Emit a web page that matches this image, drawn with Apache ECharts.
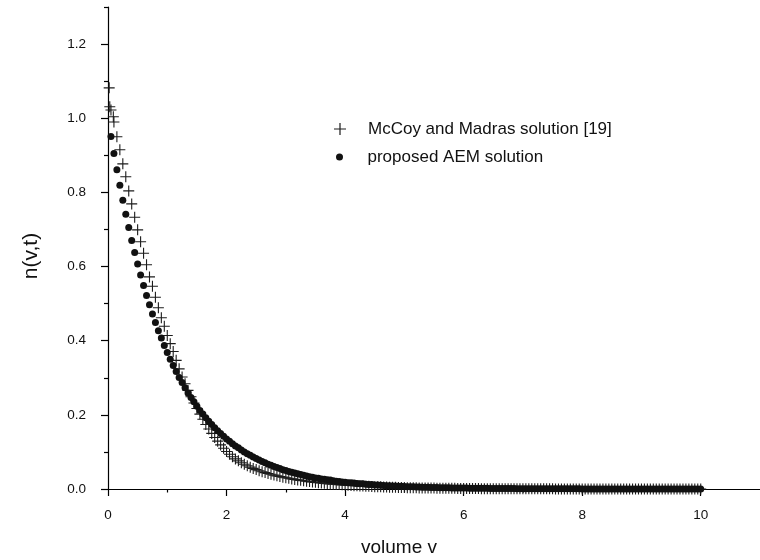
<!DOCTYPE html>
<html><head><meta charset="utf-8">
<script src="https://cdn.jsdelivr.net/npm/echarts@6/dist/echarts.min.js"></script>
<style>html,body{margin:0;padding:0;background:#fff}#c{width:760px;height:560px}</style>
</head><body><div id="c"></div>
<script>
// volume grid (v) shared by both series
const volume = [
 0.05,0.1,0.15,0.2,0.25,0.3,0.35,0.4,0.45,0.5,0.55,0.6,0.65,0.7,0.75,0.8,0.85,0.9,0.95,1,
 1.05,1.1,1.15,1.2,1.25,1.3,1.35,1.4,1.45,1.5,1.55,1.6,1.65,1.7,1.75,1.8,1.85,1.9,1.95,2,
 2.05,2.1,2.15,2.2,2.25,2.3,2.35,2.4,2.45,2.5,2.55,2.6,2.65,2.7,2.75,2.8,2.85,2.9,2.95,3,
 3.05,3.1,3.15,3.2,3.25,3.3,3.35,3.4,3.45,3.5,3.55,3.6,3.65,3.7,3.75,3.8,3.85,3.9,3.95,4,
 4.05,4.1,4.15,4.2,4.25,4.3,4.35,4.4,4.45,4.5,4.55,4.6,4.65,4.7,4.75,4.8,4.85,4.9,4.95,5,
 5.05,5.1,5.15,5.2,5.25,5.3,5.35,5.4,5.45,5.5,5.55,5.6,5.65,5.7,5.75,5.8,5.85,5.9,5.95,6,
 6.05,6.1,6.15,6.2,6.25,6.3,6.35,6.4,6.45,6.5,6.55,6.6,6.65,6.7,6.75,6.8,6.85,6.9,6.95,7,
 7.05,7.1,7.15,7.2,7.25,7.3,7.35,7.4,7.45,7.5,7.55,7.6,7.65,7.7,7.75,7.8,7.85,7.9,7.95,8,
 8.05,8.1,8.15,8.2,8.25,8.3,8.35,8.4,8.45,8.5,8.55,8.6,8.65,8.7,8.75,8.8,8.85,8.9,8.95,9,
 9.05,9.1,9.15,9.2,9.25,9.3,9.35,9.4,9.45,9.5,9.55,9.6,9.65,9.7,9.75,9.8,9.85,9.9,9.95,10
];
// proposed AEM solution (dots)
const aem = [
 .951,.905,.861,.819,.779,.741,.705,.670,.638,.607,.577,.549,.522,.497,.472,.449,.427,.407,.387,.368,
 .350,.333,.317,.301,.287,.273,.259,.247,.235,.223,.212,.202,.192,.183,.174,.165,.157,.150,.142,.135,
 .129,.122,.116,.111,.105,.100,.095,.091,.086,.082,.078,.074,.071,.067,.064,.061,.058,.055,.052,.050,
 .047,.045,.043,.041,.039,.037,.035,.033,.032,.030,.029,.027,.026,.025,.024,.022,.021,.020,.019,.018,
 .017,.017,.016,.015,.014,.014,.013,.012,.012,.011,.011,.010,.0096,.0091,.0087,.0082,.0078,.0074,.0071,.0067,
 .0064,.0061,.0058,.0055,.0052,.0050,.0047,.0045,.0043,.0041,.0039,.0037,.0035,.0033,.0032,.0030,.0029,.0027,.0026,.0025,
 .0024,.0022,.0021,.0020,.0019,.0018,.0017,.0017,.0016,.0015,.0014,.0014,.0013,.0012,.0012,.0011,.0011,.0010,.0010,.0009,
 .0009,.0008,.0008,.0007,.0007,.0007,.0006,.0006,.0006,.0006,.0005,.0005,.0005,.0005,.0004,.0004,.0004,.0004,.0004,.0003,
 .0003,.0003,.0003,.0003,.0003,.0003,.0002,.0002,.0002,.0002,.0002,.0002,.0002,.0002,.0002,.0002,.0002,.0001,.0001,.0001,
 .0001,.0001,.0001,.0001,.0001,.0001,.0001,.0001,.0001,.0001,.0001,.0001,.0001,.0001,.0001,.0001,.0001,.0001,.0001,.0001
];
// McCoy and Madras solution (crosses) on the same grid
const mccoy = [
 1.022,.990,.950,.915,.877,.842,.804,.769,.733,.699,.667,.636,.605,.572,.547,.517,.489,.462,.439,.414,
 .392,.371,.347,.324,.302,.284,.266,.249,.232,.217,.202,.188,.174,.162,.150,.139,.129,.119,.110,.101,
 .0937,.0871,.0812,.0759,.0710,.0666,.0626,.0589,.0555,.0523,.0494,.0467,.0442,.0418,.0396,.0375,.0355,.0337,.0319,.0303,
 .0288,.0273,.0259,.0246,.0233,.0221,.0210,.0199,.0189,.0179,.0170,.0161,.0153,.0145,.0138,.0131,.0124,.0118,.0112,.0106,
 .0101,.0096,.0091,.0087,.0083,.0079,.0075,.0071,.0068,.0064,.0061,.0058,.0055,.0053,.0050,.0048,.0045,.0043,.0041,.0039,
 .0037,.0035,.0034,.0032,.0030,.0029,.0028,.0026,.0025,.0024,.0023,.0021,.0020,.0019,.0018,.0017,.0017,.0016,.0015,.0014,
 .0013,.0013,.0012,.0011,.0011,.0010,.0010,.0009,.0009,.0008,.0008,.0007,.0007,.0007,.0006,.0006,.0006,.0005,.0005,.0005,
 .0005,.0004,.0004,.0004,.0004,.0004,.0004,.0004,.0004,.0004,.0003,.0003,.0003,.0003,.0003,.0003,.0003,.0003,.0003,.0003,
 .0002,.0002,.0002,.0002,.0002,.0002,.0002,.0002,.0002,.0002,.0001,.0001,.0001,.0001,.0001,.0001,.0001,.0001,.0001,.0001,
 .0001,.0001,.0001,.0001,.0001,.0001,.0001,.0001,.0001,.0001,0,0,0,0,0,0,0,0,0,0
];
// extra McCoy points close to v = 0
const mccoyStartVolume = [0.02, 0.03, 0.09];
const mccoyStartValue  = [1.082, 1.031, 1.004];

const xMajorTicks = [0, 2, 4, 6, 8, 10];
const xMinorTicks = [1, 3, 5, 7, 9];
const yMajorTicks = [0, 0.2, 0.4, 0.6, 0.8, 1.0, 1.2];
const yMinorTicks = [0.1, 0.3, 0.5, 0.7, 0.9, 1.1, 1.3];

const seriesNames = ['McCoy and Madras solution [19]', 'proposed AEM solution'];
const xName = 'volume v';
const yName = 'n(v,t)';

const FONT = '"Liberation Sans", Arial, Helvetica, sans-serif';
const CROSS = 'path://M4.5,0 L5.5,0 L5.5,4.5 L10,4.5 L10,5.5 L5.5,5.5 L5.5,10 L4.5,10 L4.5,5.5 L0,5.5 L0,4.5 L4.5,4.5 Z';

const mccoyData = mccoyStartVolume.map((v, i) => [v, mccoyStartValue[i]])
  .concat(volume.map((v, i) => [v, mccoy[i]]));
const aemData = volume.map((v, i) => [v, aem[i]]);

const axisLineStyle = { color: '#000', width: 1.2 };

const chart = echarts.init(document.getElementById('c'), null, { renderer: 'canvas' });
chart.setOption({
  animation: false,
  backgroundColor: '#fff',
  grid: { left: 108, top: 7, right: -5, bottom: 71 },
  legend: [
    { data: [seriesNames[0]], left: 334, top: 120, orient: 'vertical', padding: 0,
      itemWidth: 46, itemHeight: 12, selectedMode: false, symbolKeepAspect: true,
      textStyle: { fontFamily: FONT, fontSize: 17, color: '#111', lineHeight: 18 } },
    { data: [seriesNames[1]], left: 336, top: 148, orient: 'vertical', padding: 0,
      itemWidth: 46, itemHeight: 7, selectedMode: false, symbolKeepAspect: true,
      textStyle: { fontFamily: FONT, fontSize: 17, color: '#111', lineHeight: 18 } }
  ],
  xAxis: [
    { type: 'value', position: 'bottom', min: 0, max: 11,
      axisLine: { show: true, onZero: false, lineStyle: axisLineStyle },
      axisTick: { show: true, customValues: xMajorTicks, length: 7, lineStyle: axisLineStyle },
      axisLabel: { customValues: xMajorTicks, margin: 19, fontFamily: FONT, fontSize: 13.5, color: '#111' },
      splitLine: { show: false } },
    { type: 'value', position: 'bottom', min: 0, max: 11,
      axisLine: { show: false, onZero: false },
      axisTick: { show: true, customValues: xMinorTicks, length: 3.5, lineStyle: axisLineStyle },
      axisLabel: { show: false }, splitLine: { show: false } }
  ],
  yAxis: [
    { type: 'value', position: 'left', min: 0, max: 1.3,
      name: yName, nameLocation: 'middle', nameGap: 66,
      nameTextStyle: { fontFamily: FONT, fontSize: 21, color: '#111', padding: [0, 16, 0, 0] },
      axisLine: { show: true, onZero: false, lineStyle: axisLineStyle },
      axisTick: { show: true, customValues: yMajorTicks, length: 7, lineStyle: axisLineStyle },
      axisLabel: { customValues: yMajorTicks, margin: 22, fontFamily: FONT, fontSize: 13.5, color: '#111',
        formatter: v => v.toFixed(1) },
      splitLine: { show: false } },
    { type: 'value', position: 'left', min: 0, max: 1.3,
      axisLine: { show: false, onZero: false },
      axisTick: { show: true, customValues: yMinorTicks, length: 4, lineStyle: axisLineStyle },
      axisLabel: { show: false }, splitLine: { show: false } }
  ],
  graphic: [
    { type: 'text', x: 399, y: 548, silent: true,
      style: { text: xName, font: '19px ' + FONT, fill: '#111', align: 'center', verticalAlign: 'middle' } }
  ],
  series: [
    { name: seriesNames[0], type: 'scatter', xAxisIndex: 0, yAxisIndex: 0, clip: false,
      symbol: CROSS, symbolSize: 11, symbolKeepAspect: true,
      itemStyle: { color: '#1c1c1c', opacity: 1 },
      emphasis: { disabled: true }, data: mccoyData },
    { name: seriesNames[1], type: 'scatter', xAxisIndex: 0, yAxisIndex: 0, clip: false,
      symbol: 'circle', symbolSize: 7,
      itemStyle: { color: '#111', opacity: 1 },
      emphasis: { disabled: true }, data: aemData }
  ]
});
</script>
</body></html>
